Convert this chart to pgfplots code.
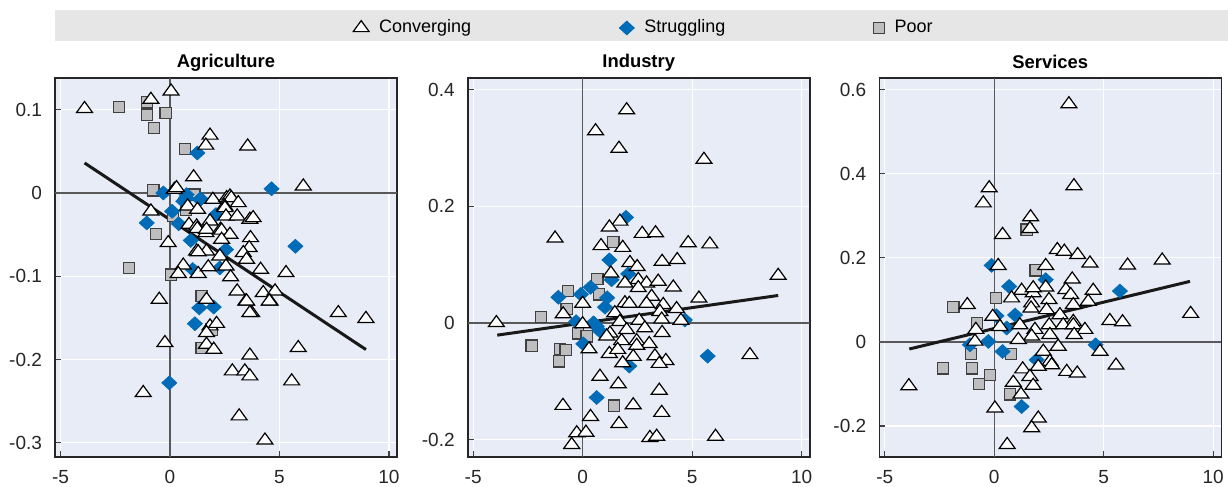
\documentclass[border=0pt]{standalone}
\usepackage{fontspec}
\setmainfont{Liberation Sans}
\usepackage{pgfplots}
\pgfplotsset{compat=1.18}
\definecolor{bgblue}{RGB}{231,236,246}
\definecolor{bandgrey}{RGB}{230,230,230}
\definecolor{dblue}{RGB}{0,107,182}
\definecolor{sqgrey}{RGB}{190,190,192}
\pgfplotsset{
  panel/.style={
    scale only axis, width=171pt, height=189.5pt,
    anchor=south west,
    axis background/.style={fill=bgblue},
    axis line style={black!85, line width=0.8pt},
    grid=major, grid style={white, line width=0.6pt},
    major tick length=3pt, tick style={black!75, line width=0.6pt},
    tick align=inside, tick pos=left,
    xtick={-5,0,5,10}, xticklabels={-5,0,5,10},
    xmin=-5.25, xmax=10.37,
    tick label style={font=\fontsize{9.5}{11}\selectfont, black!85},
    yticklabel style={xshift=-3pt},
    xticklabel style={yshift=-3pt},
    title style={font=\bfseries\fontsize{9.2}{11}\selectfont, at={(0.5,1)}, anchor=base, yshift=-1pt},
    /pgf/number format/assume math mode=true,
  },
  conv/.style={only marks, mark=triangle*, mark size=4.6pt, mark options={fill=white, draw=black, line width=0.6pt, yscale=0.8}},
  strug/.style={only marks, mark=diamond*, mark size=3.5pt, mark options={fill=dblue, draw=dblue, line width=0.3pt, xscale=1.45}},
  poor/.style={only marks, mark=square*, mark size=2.8pt, mark options={fill=sqgrey, draw=black!75, line width=0.6pt}},
  zline/.style={black!65, line width=0.7pt, forget plot},
  reg/.style={black!90, line width=1.5pt, forget plot},
}
\begin{document}
\begin{tikzpicture}
\useasboundingbox (0,0) rectangle (614pt,243.5pt);
\fill[bandgrey] (27.5pt,223pt) rectangle (614pt,238.5pt);
% ---------------- Agriculture
\begin{axis}[panel, at={(27.5pt,15pt)}, title={Agriculture},
  ymin=-0.317, ymax=0.138, ytick={-0.3,-0.2,-0.1,0,0.1}, yticklabels={-0.3,-0.2,-0.1,0,0.1},
  legend columns=3,
  legend style={at={(1.725,1.132)}, anchor=center, draw=none, fill=none,
    font=\fontsize{9}{11}\selectfont,
    /tikz/every even column/.append style={column sep=72pt},
    /tikz/every odd column/.append style={column sep=3pt}}]
\addlegendimage{conv}
\addlegendimage{strug}
\addlegendimage{poor}
\addplot[zline] coordinates {(0,-0.317) (0,0.138)};
\addplot[zline] coordinates {(-5.25,0) (10.37,0)};
\addplot[poor, forget plot] coordinates {(-2.33,0.103) (-1.04,0.109) (-1.04,0.094) (-0.2,0.096) (-0.72,0.078) (0.7,0.053) (-0.76,0.003) (1.12,-0.002) (0.73,-0.020) (0.15,-0.028) (-0.64,-0.049) (-1.88,-0.090) (0.06,-0.098) (1.45,-0.124) (1.9,-0.164) (1.45,-0.186)};
\addplot[strug, forget plot] coordinates {(1.25,0.048) (-0.3,0.0) (0.73,-0.006) (1.4,-0.007) (0.76,-0.002) (1.37,-0.008) (0.61,-0.010) (4.64,0.005) (0.1,-0.022) (-1.06,-0.036) (0.4,-0.037) (2.1,-0.026) (0.95,-0.057) (2.56,-0.068) (5.73,-0.064) (1.04,-0.092) (2.28,-0.090) (1.34,-0.138) (2.0,-0.137) (1.14,-0.157) (-0.03,-0.228)};
\addplot[conv, forget plot] coordinates {(-3.9,0.101) (-0.87,0.112) (0.05,0.122) (1.83,0.069) (1.64,0.057) (3.55,0.056) (1.08,0.019) (0.2,0.004) (0.3,0.006) (1.96,-0.008) (2.59,-0.006) (2.74,-0.004) (2.8,-0.006) (3.12,-0.012) (6.09,0.008) (2.5,-0.016) (-0.87,-0.022) (0.81,-0.016) (1.26,-0.020) (2.51,-0.018) (0.87,-0.038) (1.22,-0.040) (1.25,-0.043) (1.83,-0.034) (2.56,-0.028) (3.07,-0.028) (3.65,-0.032) (3.8,-0.030) (-0.08,-0.060) (1.64,-0.048) (1.67,-0.044) (2.31,-0.044) (2.36,-0.045) (2.74,-0.050) (2.36,-0.056) (3.68,-0.054) (3.62,-0.066) (1.22,-0.070) (1.67,-0.070) (1.29,-0.071) (2.28,-0.076) (3.35,-0.072) (3.5,-0.080) (0.61,-0.087) (0.38,-0.097) (1.29,-0.097) (1.75,-0.089) (2.56,-0.088) (2.77,-0.101) (4.14,-0.092) (5.3,-0.096) (-0.49,-0.128) (1.67,-0.128) (3.07,-0.118) (3.47,-0.130) (4.26,-0.120) (4.8,-0.118) (4.57,-0.130) (3.73,-0.144) (1.83,-0.160) (2.13,-0.157) (1.67,-0.168) (-0.23,-0.180) (1.67,-0.182) (2.0,-0.188) (3.65,-0.195) (5.86,-0.186) (-1.22,-0.240) (2.85,-0.214) (3.42,-0.214) (3.65,-0.220) (5.56,-0.226) (3.16,-0.268) (4.34,-0.297) (7.69,-0.144) (8.95,-0.151) (3.5,-0.130) (4.54,-0.130) (3.65,-0.144)};
\addplot[reg] coordinates {(-3.9,0.036) (8.95,-0.188)};
\legend{Converging,Struggling,Poor}
\end{axis}
% ---------------- Industry
\begin{axis}[panel, at={(233.85pt,15pt)}, title={Industry},
  ymin=-0.23, ymax=0.42, ytick={-0.2,0,0.2,0.4}, yticklabels={-0.2,0,0.2,0.4}]
\addplot[zline] coordinates {(0,-0.23) (0,0.42)};
\addplot[zline] coordinates {(-5.25,0) (10.37,0)};
\addplot[poor] coordinates {(1.4,0.139) (0.67,0.075) (-0.66,0.055) (0.76,0.049) (-0.73,0.024) (-1.9,0.010) (-0.2,-0.018) (0.18,-0.023) (-2.33,-0.039) (-1.04,-0.045) (-0.78,-0.047) (-1.08,-0.066) (1.43,-0.142)};
\addplot[strug] coordinates {(1.98,0.181) (1.22,0.108) (2.08,0.084) (1.32,0.074) (0.36,0.061) (-0.08,0.049) (-1.11,0.044) (1.12,0.043) (1.02,0.027) (4.67,0.005) (-0.3,0.002) (0.64,-0.006) (0.82,-0.015) (0.5,0.0) (0.03,-0.036) (2.13,-0.074) (0.64,-0.128) (5.71,-0.057)};
\addplot[conv] coordinates {(2.01,0.365) (0.59,0.329) (1.66,0.299) (5.54,0.280) (1.70,0.174) (1.22,0.164) (-1.26,0.145) (2.72,0.153) (3.33,0.154) (4.82,0.137) (5.81,0.135) (0.84,0.132) (1.83,0.129) (2.16,0.103) (2.49,0.096) (3.63,0.105) (4.32,0.108) (1.29,0.085) (2.54,0.074) (2.92,0.068) (3.45,0.071) (4.14,0.061) (1.93,0.068) (2.54,0.060) (1.93,0.034) (2.13,0.033) (3.15,0.045) (2.92,0.033) (3.68,0.031) (5.31,0.042) (0,0.033) (-0.89,0.015) (1.47,0.017) (3.53,0.019) (4.29,0.024) (3.61,0.006) (4.49,0.004) (-3.94,0.0) (0,-0.002) (1.70,0.002) (2.58,0.004) (2.84,-0.009) (2.01,-0.012) (1.25,-0.018) (1.1,-0.023) (3.63,-0.017) (1.78,-0.031) (2.47,-0.031) (3.04,-0.036) (2.47,-0.039) (0.29,-0.045) (1.22,-0.053) (1.6,-0.046) (2.31,-0.058) (3.30,-0.057) (3.8,-0.065) (3.5,-0.070) (1.83,-0.069) (7.64,-0.055) (0.79,-0.092) (1.63,-0.105) (3.5,-0.116) (-0.9,-0.142) (2.31,-0.141) (3.61,-0.154) (0.36,-0.161) (1.66,-0.173) (-0.27,-0.189) (0.15,-0.188) (3.07,-0.197) (3.38,-0.195) (-0.5,-0.209) (6.07,-0.195) (8.93,0.081)};
\addplot[reg] coordinates {(-3.9,-0.021) (8.93,0.047)};
\end{axis}
% ---------------- Services
\begin{axis}[panel, at={(439.65pt,15pt)}, title={Services},
  ymin=-0.274, ymax=0.628, ytick={-0.2,0,0.2,0.4,0.6}, yticklabels={-0.2,0,0.2,0.4,0.6}]
\addplot[zline] coordinates {(0,-0.274) (0,0.628)};
\addplot[zline] coordinates {(-5.25,0) (10.37,0)};
\addplot[poor] coordinates {(1.48,0.267) (1.89,0.170) (0.08,0.104) (-1.87,0.083) (-0.78,0.045) (-1.06,-0.029) (0.76,-0.029) (-2.33,-0.063) (-1.03,-0.063) (-0.2,-0.079) (-0.7,-0.100) (0.72,-0.125)};
\addplot[strug] coordinates {(-0.12,0.182) (2.35,0.148) (0.68,0.132) (5.74,0.121) (0.95,0.064) (0.1,0.062) (0.57,0.033) (-0.27,0.001) (-1.11,-0.007) (0.38,-0.023) (4.63,-0.007) (1.94,-0.043) (1.25,-0.154)};
\addplot[conv] coordinates {(3.41,0.566) (3.64,0.371) (-0.23,0.366) (-0.5,0.330) (1.66,0.297) (1.63,0.269) (0.38,0.255) (2.88,0.219) (3.2,0.215) (3.81,0.207) (4.37,0.187) (6.09,0.182) (7.67,0.194) (0.18,0.181) (2.35,0.181) (3.56,0.149) (1.25,0.122) (1.78,0.116) (2.35,0.130) (1.78,0.128) (3.27,0.124) (3.49,0.112) (4.52,0.122) (4.29,0.096) (0.79,0.104) (2.5,0.100) (1.71,0.092) (3.61,0.088) (-1.23,0.088) (1.68,0.080) (2.39,0.076) (3.0,0.064) (3.61,0.048) (-0.07,0.060) (1.17,0.040) (1.86,0.029) (2.51,0.040) (3.15,0.040) (3.61,0.040) (4.14,0.029) (5.28,0.050) (5.86,0.047) (-0.84,0.029) (0.26,0.036) (1.71,0.013) (2.54,0.017) (3.65,0.017) (-0.88,0.001) (1.1,0.005) (4.83,-0.023) (2.92,-0.011) (2.24,-0.023) (2.54,-0.047) (2.62,-0.055) (2.01,-0.059) (3.31,-0.071) (3.79,-0.075) (5.56,-0.056) (1.3,-0.065) (1.63,-0.083) (0.87,-0.097) (1.78,-0.104) (-3.9,-0.105) (1.22,-0.125) (0.03,-0.158) (2.01,-0.182) (1.71,-0.205) (0.59,-0.245) (8.97,0.067)};
\addplot[reg] coordinates {(-3.88,-0.017) (8.94,0.144)};
\end{axis}
\end{tikzpicture}
\end{document}
